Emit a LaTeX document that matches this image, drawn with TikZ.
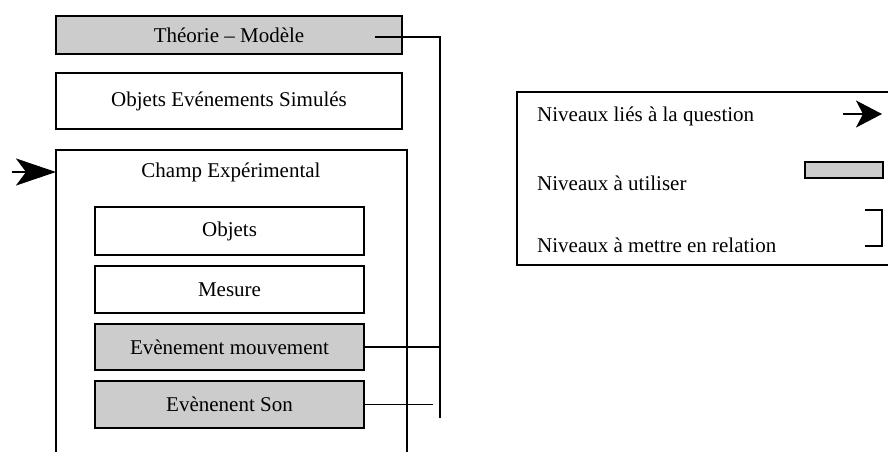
\documentclass[tikz,border=0pt]{standalone}
\usepackage{fontspec}
\setmainfont{Liberation Serif}
\usetikzlibrary{arrows.meta}
\definecolor{levelgrey}{HTML}{CCCCCC}
\tikzset{
    level/.style={
        draw, line width=1.6pt, inner sep=0pt,
        font=\fontsize{21}{25}\selectfont
    },
    usedlevel/.style={level, fill=levelgrey},
    legendtext/.style={
        anchor=west, inner sep=0pt,
        font=\fontsize{21}{25}\selectfont
    },
    relation/.style={line width=1.5pt}
}

\begin{document}
\begin{tikzpicture}[x=1pt,y=-1pt, line cap=butt, line join=miter]

\useasboundingbox (0,0) rectangle (888,451);

% top levels
\node[usedlevel, minimum width=346pt, minimum height=38pt] (theorie) at (229,35) {Théorie – Modèle};
\node[level, minimum width=346pt, minimum height=56pt] (simules) at (229,101) {Objets Evénements Simulés};

% champ experimental, open at the bottom
\draw[line width=1.6pt] (56,452) -- (56,150) -- (407,150) -- (407,452);
\node[legendtext, anchor=center] (champ) at (231,172) {Champ Expérimental};
\coordinate (champW) at (56,172);
\coordinate (qin) at (12,172);
\draw[line width=2.5pt, -{Stealth[length=40pt, width=27pt, inset=10pt]}] (qin) -- (champW);

\node[level, minimum width=269pt, minimum height=48pt] (objets) at (229.5,231) {Objets};
\node[level, minimum width=269pt, minimum height=47pt] (mesure) at (229.5,289.5) {Mesure};
\node[usedlevel, minimum width=269pt, minimum height=46pt] (mouv) at (229.5,347) {Evènement mouvement};
\node[usedlevel, minimum width=269pt, minimum height=47pt] (son) at (229.5,404.5) {Evènenent Son};

% levels put in relation
\coordinate (tmIn) at (375,37);
\coordinate (rel) at (440,37);
\draw[relation] (tmIn) -- (rel) -- (rel |- 0,418);
\draw[relation] (mouv.east) -- (mouv.east -| rel);
\draw[relation] (son.east) -- ++(68,0);

% legend
\draw[line width=1.6pt] (890,92) -- (517,92) -- (517,265) -- (890,265);
\node[legendtext] (lgq) at (537,116) {Niveaux liés à la question};
\node[legendtext] (lgu) at (537,183) {Niveaux à utiliser};
\node[legendtext] (lgr) at (537,245) {Niveaux à mettre en relation};

\coordinate (lqa) at (843,114);
\coordinate (lqb) at (882,114);
\draw[line width=1.5pt, -{Stealth[length=26pt, width=27pt, inset=7pt]}] (lqa) -- (lqb);
\draw[line width=1.6pt, fill=levelgrey] (805,162) rectangle (883,178);
\draw[relation] (865,210) -- (882,210) -- (882,246) -- (865,246);

\end{tikzpicture}
\end{document}
